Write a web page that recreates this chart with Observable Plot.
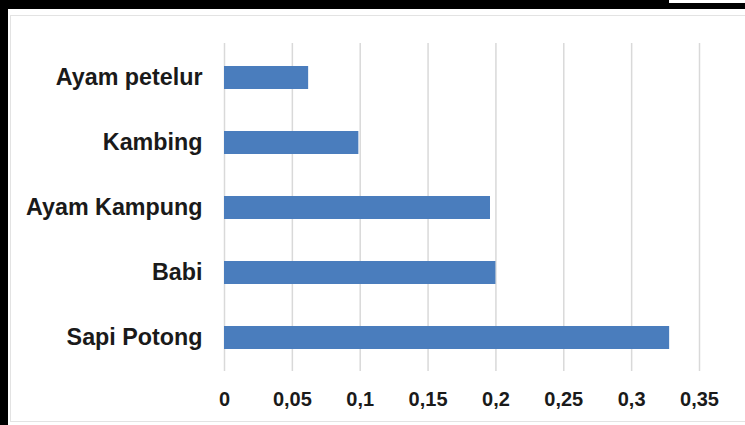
<!DOCTYPE html>
<html>
<head>
<meta charset="utf-8">
<script src="https://cdn.jsdelivr.net/npm/d3@7"></script>
<script src="https://cdn.jsdelivr.net/npm/@observablehq/plot@0.6"></script>
<style>
  html, body { margin: 0; padding: 0; background: #fff; }
  #wrap { position: relative; width: 745px; height: 425px; overflow: hidden; background: #fff; }
  .blk { position: absolute; background: #000; }
  #frame { position: absolute; left: 10px; top: 15px; width: 760px; height: 407px; border: 1.5px solid #e3e3e3; box-sizing: border-box; }
  #chart { position: absolute; left: 0; top: 0; }
  #chart svg { background: transparent; }
</style>
</head>
<body>
<div id="wrap">
  <div id="frame"></div>
  <div class="blk" style="left:0;top:0;width:669px;height:9px"></div>
  <div class="blk" style="left:669px;top:3px;width:76px;height:6px"></div>
  <div class="blk" style="left:0;top:0;width:8px;height:425px"></div>
  <div id="chart"></div>
</div>
<script>
const categories = ["Ayam petelur", "Kambing", "Ayam Kampung", "Babi", "Sapi Potong"];
const values = [0.062, 0.099, 0.196, 0.2, 0.328];
const tickValues = [0, 0.05, 0.1, 0.15, 0.2, 0.25, 0.3, 0.35];
const tickLabels = ["0", "0,05", "0,1", "0,15", "0,2", "0,25", "0,3", "0,35"];

const data = categories.map((c, i) => ({category: c, value: values[i]}));

const plot = Plot.plot({
  width: 745,
  height: 425,
  marginLeft: 224,
  marginRight: 46,
  marginTop: 43,
  marginBottom: 54,
  style: {background: "transparent", fontFamily: "'Liberation Sans', Arial, sans-serif"},
  x: {domain: [0, 0.35], axis: null},
  y: {domain: categories, paddingInner: 0.65, paddingOuter: 0.325, axis: null},
  marks: [
    Plot.ruleX(tickValues, {stroke: "#d9d9d9", strokeWidth: 1.5}),
    Plot.barX(data, {x: "value", y: "category", fill: "#4a7dbd"}),
    Plot.axisY({
      label: null,
      tickSize: 0,
      tickPadding: 22,
      fontSize: 23.3,
      fontWeight: "bold",
      fill: "#1a1a1a"
    }),
    Plot.axisX({
      label: null,
      ticks: tickValues,
      tickFormat: (d) => tickLabels[tickValues.indexOf(d)],
      tickSize: 0,
      tickPadding: 20,
      fontSize: 20,
      fontWeight: "bold",
      fill: "#1a1a1a"
    })
  ]
});
document.getElementById("chart").appendChild(plot);
</script>
</body>
</html>
